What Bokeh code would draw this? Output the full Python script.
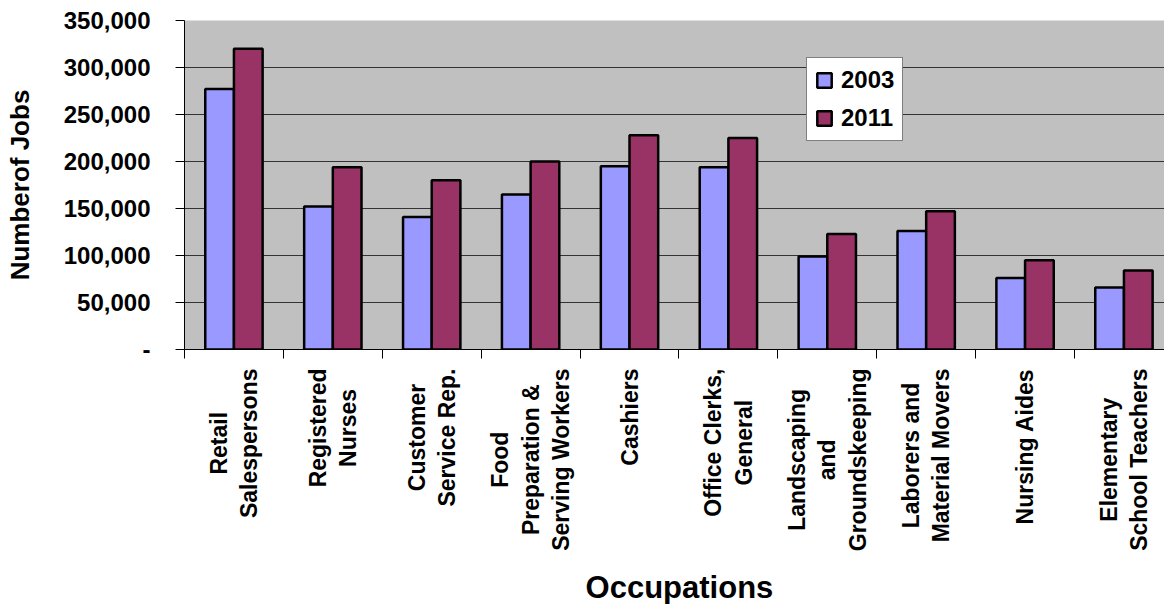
from bokeh.plotting import figure
from bokeh.layouts import column
from bokeh.models import (Range1d, FixedTicker, NumeralTickFormatter, ColumnDataSource,
                          Legend, LegendItem, Label, CustomLabelingPolicy)
from bokeh.transform import dodge
from bokeh.embed import file_html
from bokeh.resources import INLINE

categories = [
    "Retail\nSalespersons",
    "Registered\nNurses",
    "Customer\nService Rep.",
    "Food\nPreparation &\nServing Workers",
    "Cashiers",
    "Office Clerks,\nGeneral",
    "Landscaping\nand\nGroundskeeping",
    "Laborers and\nMaterial Movers",
    "Nursing Aides",
    "Elementary\nSchool Teachers",
]
jobs_2003 = [277000, 152000, 141000, 165000, 195000, 194000, 99000, 126000, 76000, 66000]
jobs_2011 = [320000, 194000, 180000, 200000, 228000, 225000, 123000, 147000, 95000, 84000]
years = ["2003", "2011"]
y_ticks = [0, 50000, 100000, 150000, 200000, 250000, 300000, 350000]
y_title = "Numberof Jobs"
x_title = "Occupations"

FONT = "Liberation Sans"
C2003 = "#9999ff"
C2011 = "#993366"

W = 1164
H_TOP = 366
H_BOTTOM = 604 - H_TOP

n = len(categories)
pos = [i + 0.5 for i in range(n)]
bounds = [float(i) for i in range(n + 1)]
source = ColumnDataSource(dict(pos=pos, y2003=jobs_2003, y2011=jobs_2011))
x_range = Range1d(0, 9.91)

# ---------------- main chart ----------------
p = figure(width=W, height=H_TOP, output_backend="svg", toolbar_location=None,
           x_range=x_range, y_range=Range1d(0, 350000),
           min_border_left=184, min_border_right=0, min_border_top=20,
           min_border_bottom=17, background_fill_color="#c0c0c0",
           border_fill_color="white", outline_line_color=None)

r1 = p.vbar(x=dodge("pos", -0.145, range=x_range), top="y2003", width=0.29,
            source=source, fill_color=C2003, line_color="black", line_width=2.5)
r2 = p.vbar(x=dodge("pos", 0.145, range=x_range), top="y2011", width=0.29,
            source=source, fill_color=C2011, line_color="black", line_width=2.5)

p.xgrid.grid_line_color = None
p.ygrid.grid_line_color = "#333333"
p.ygrid.grid_line_width = 1
p.ygrid.ticker = FixedTicker(ticks=y_ticks)

p.yaxis.ticker = FixedTicker(ticks=y_ticks)
p.yaxis.formatter = NumeralTickFormatter(format="0,0")
p.yaxis.major_label_overrides = {0: "-"}
p.yaxis.major_label_text_font = FONT
p.yaxis.major_label_text_font_style = "bold"
p.yaxis.major_label_text_font_size = "24px"
p.yaxis.major_label_text_color = "black"
p.yaxis.major_tick_out = 9
p.yaxis.major_tick_in = 0
p.yaxis.minor_tick_line_color = None
p.yaxis.major_label_standoff = 25
p.yaxis.axis_line_color = "black"
p.yaxis.major_tick_line_color = "black"
p.yaxis.axis_label = y_title
p.yaxis.axis_label_text_font = FONT
p.yaxis.axis_label_text_font_style = "bold"
p.yaxis.axis_label_text_font_size = "26px"
p.yaxis.axis_label_text_color = "black"
p.yaxis.axis_label_standoff = 26

# x axis: tick marks at category boundaries only (no tick labels drawn)
p.xaxis.ticker = FixedTicker(ticks=bounds)
p.xaxis.major_label_policy = CustomLabelingPolicy(code="""
    for (const i of indices) {
        indices.unset(i)
    }
    return indices
""")
p.xaxis.major_label_text_font_size = "0px"
p.xaxis.major_label_standoff = 0
p.xaxis.major_tick_out = 9
p.xaxis.major_tick_in = 0
p.xaxis.minor_tick_line_color = None
p.xaxis.axis_line_color = "black"
p.xaxis.major_tick_line_color = "black"

legend = Legend(items=[LegendItem(label=years[0], renderers=[r1]),
                       LegendItem(label=years[1], renderers=[r2])],
                location=(622, 208), orientation="vertical",
                label_text_font=FONT, label_text_font_style="bold",
                label_text_font_size="24px", label_text_color="black",
                glyph_width=18, glyph_height=18, label_height=28, label_standoff=8,
                spacing=10, padding=8, margin=0,
                border_line_color="black", border_line_width=1,
                background_fill_color="white", background_fill_alpha=1.0)
p.add_layout(legend)

# ---------------- category labels + axis title ----------------
q = figure(width=W, height=H_BOTTOM, output_backend="svg", toolbar_location=None,
           x_range=x_range, y_range=Range1d(-H_BOTTOM, 0),
           x_axis_type=None, y_axis_type=None,
           min_border_left=184, min_border_right=0, min_border_top=0,
           min_border_bottom=0, background_fill_color="white",
           border_fill_color="white", outline_line_color=None)
q.grid.visible = False

for xi, cat in zip(pos, categories):
    q.add_layout(Label(x=xi, y=-2, text=cat, angle=90, angle_units="deg",
                       text_align="center", text_baseline="middle", anchor="center_right",
                       text_font=FONT, text_font_style="bold", text_font_size="23px",
                       text_color="black", text_line_height=1.17))

q.add_layout(Label(x=(x_range.start + x_range.end) / 2 + 0.05, y=-221, text=x_title,
                   text_align="center", text_baseline="middle",
                   text_font=FONT, text_font_style="bold", text_font_size="31px",
                   text_color="black"))

open("out.html", "w").write(file_html(column(p, q, spacing=0), INLINE))
